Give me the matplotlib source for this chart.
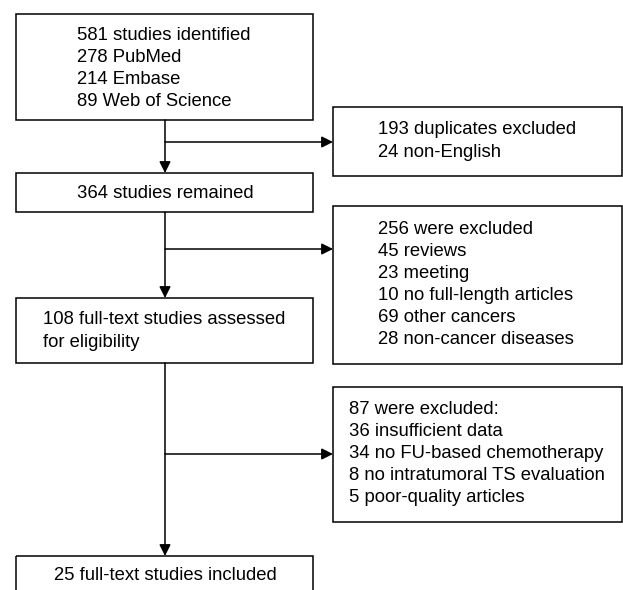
import matplotlib.pyplot as plt
import matplotlib.patches as patches

# Flowchart text
identified = ['581 studies identified', '278 PubMed', '214 Embase', '89 Web of Science']
excluded_1 = ['193 duplicates excluded', '24 non-English']
remained = ['364 studies remained']
excluded_2 = ['256 were excluded', '45 reviews', '23 meeting',
              '10 no full-length articles', '69 other cancers', '28 non-cancer diseases']
assessed = ['108 full-text studies assessed', 'for eligibility']
excluded_3 = ['87 were excluded:', '36 insufficient data', '34 no FU-based chemotherapy',
              '8 no intratumoral TS evaluation', '5 poor-quality articles']
included = ['25 full-text studies included']

W, H = 623, 590
LINE_H = 22.2
FS = 13.3
LW = 1.1

plt.rcParams['font.family'] = ['Liberation Sans', 'DejaVu Sans']

fig = plt.figure(figsize=(W / 100, H / 100), dpi=100)
ax = fig.add_axes([0, 0, 1, 1])
ax.set_xlim(0, W)
ax.set_ylim(H, 0)
ax.axis('off')


def box(x0, y0, x1, y1):
    rect = patches.Rectangle((x0, y0), x1 - x0, y1 - y0, fill=False,
                             edgecolor='black', linewidth=LW)
    ax.add_patch(rect)


def write(lines, x, y_first, ha='left'):
    for i, t in enumerate(lines):
        ax.text(x, y_first + i * LINE_H, t, fontsize=FS, ha=ha, va='center',
                color='black')


def arrow(x0, y0, x1, y1):
    ax.annotate('', xy=(x1, y1), xytext=(x0, y0),
                arrowprops=dict(arrowstyle='-|>', mutation_scale=17, lw=LW,
                                color='black', shrinkA=0, shrinkB=0))


cx = 165
left, right = 16, 313
side_l, side_r = 333, 622

# main column boxes
box(left, 14, right, 120)
write(identified, 77, 35)
box(left, 173, right, 212)
write(remained, cx, 193, ha='center')
box(left, 298, right, 363)
write(assessed, 43, 320)
box(left, 556, right, 610)
write(included, cx, 576, ha='center')

# side boxes
box(side_l, 107, side_r, 176)
write(excluded_1, 378, 130)
box(side_l, 206, side_r, 364)
write(excluded_2, 378, 229)
box(side_l, 387, side_r, 522)
write(excluded_3, 349, 409)

# connectors
arrow(cx, 120, cx, 173)
arrow(cx, 212, cx, 298)
arrow(cx, 363, cx, 556)
arrow(cx, 142, side_l, 142)
arrow(cx, 249, side_l, 249)
arrow(cx, 454, side_l, 454)

fig.savefig('out.png', dpi=100)
